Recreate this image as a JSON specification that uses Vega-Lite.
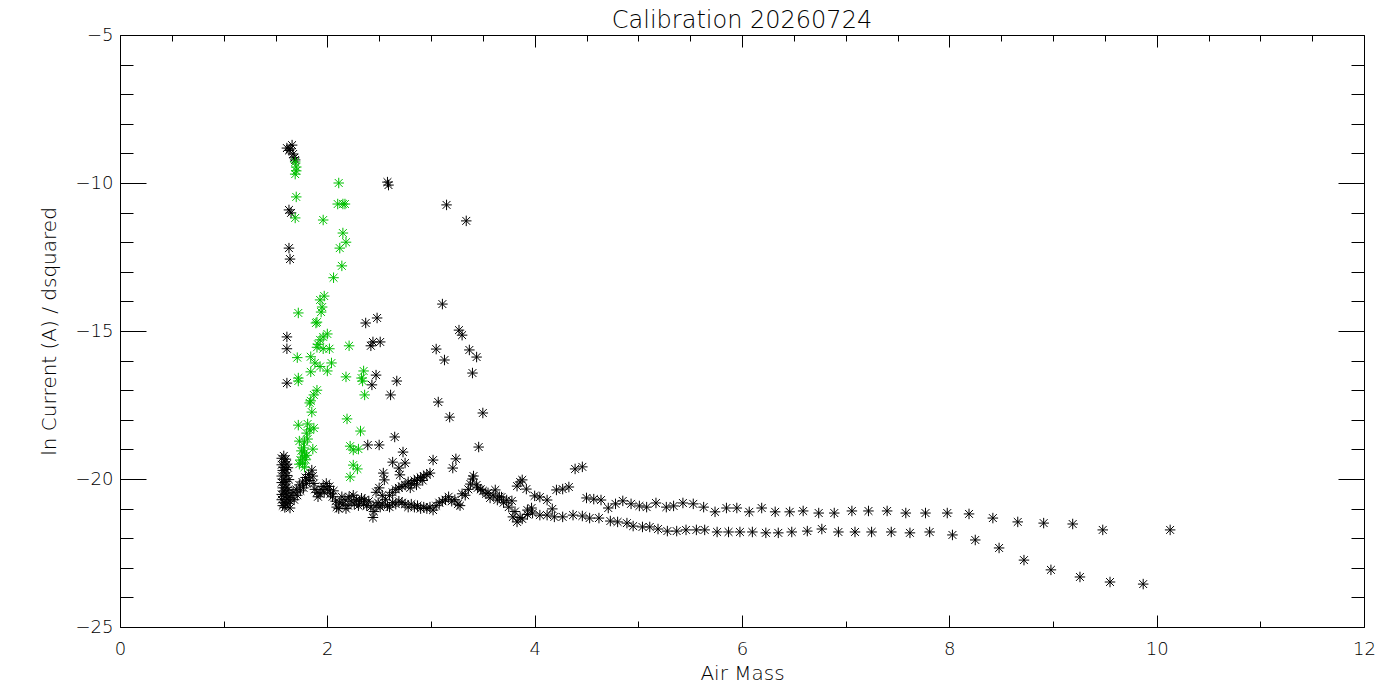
{
  "$schema": "https://vega.github.io/schema/vega-lite/v6.json",
  "width": 1244,
  "height": 592,
  "autosize": {"type": "none"},
  "padding": {"left": 120, "top": 35, "right": 36, "bottom": 73},
  "background": "white",
  "title": {
    "text": "Calibration 20260724",
    "font": "DejaVu Sans",
    "fontWeight": 200,
    "fontSize": 24,
    "color": "black",
    "offset": -7
  },
  "config": {
    "view": {"stroke": null},
    "axis": {
      "grid": false,
      "domainColor": "black",
      "domainWidth": 1,
      "tickColor": "black",
      "tickWidth": 1,
      "labelFont": "DejaVu Sans",
      "labelFontWeight": 200,
      "labelFontSize": 18,
      "labelColor": "black",
      "labelFlush": false,
      "labelOverlap": false,
      "titleFont": "DejaVu Sans",
      "titleFontWeight": 200,
      "titleFontSize": 20,
      "titleColor": "black"
    }
  },
  "datasets": {
    "pts": [
      {"x": 1.61, "y": -8.82, "s": "k"}, {"x": 1.66, "y": -8.72, "s": "k"}, {"x": 1.64, "y": -8.85, "s": "k"},
      {"x": 1.67, "y": -9.02, "s": "k"}, {"x": 1.68, "y": -9.15, "s": "k"}, {"x": 1.69, "y": -9.22, "s": "k"},
      {"x": 1.63, "y": -8.9, "s": "k"},
      {"x": 2.58, "y": -9.97, "s": "k"}, {"x": 2.59, "y": -10.07, "s": "k"}, {"x": 1.63, "y": -10.91, "s": "k"},
      {"x": 1.65, "y": -11.01, "s": "k"}, {"x": 1.63, "y": -12.2, "s": "k"}, {"x": 1.64, "y": -12.57, "s": "k"},
      {"x": 3.15, "y": -10.74, "s": "k"}, {"x": 3.34, "y": -11.28, "s": "k"},
      {"x": 3.11, "y": -14.09, "s": "k"}, {"x": 2.37, "y": -14.73, "s": "k"}, {"x": 2.48, "y": -14.56, "s": "k"},
      {"x": 1.61, "y": -15.2, "s": "k"}, {"x": 1.61, "y": -15.6, "s": "k"}, {"x": 1.61, "y": -16.76, "s": "k"},
      {"x": 2.44, "y": -15.37, "s": "k"}, {"x": 2.51, "y": -15.37, "s": "k"}, {"x": 2.42, "y": -15.5, "s": "k"},
      {"x": 3.05, "y": -15.61, "s": "k"}, {"x": 3.27, "y": -14.97, "s": "k"}, {"x": 3.30, "y": -15.14, "s": "k"},
      {"x": 3.13, "y": -15.98, "s": "k"}, {"x": 3.37, "y": -15.64, "s": "k"}, {"x": 3.44, "y": -15.88, "s": "k"},
      {"x": 3.40, "y": -16.42, "s": "k"}, {"x": 2.47, "y": -16.49, "s": "k"}, {"x": 2.43, "y": -16.82, "s": "k"},
      {"x": 2.67, "y": -16.69, "s": "k"}, {"x": 2.61, "y": -17.16, "s": "k"}, {"x": 3.07, "y": -17.40, "s": "k"},
      {"x": 3.18, "y": -17.91, "s": "k"}, {"x": 3.50, "y": -17.77, "s": "k"}, {"x": 2.65, "y": -18.58, "s": "k"},
      {"x": 3.46, "y": -18.92, "s": "k"}, {"x": 2.39, "y": -18.85, "s": "k"}, {"x": 2.50, "y": -18.85, "s": "k"},
      {"x": 2.73, "y": -19.09, "s": "k"}, {"x": 2.75, "y": -19.46, "s": "k"}, {"x": 2.63, "y": -19.43, "s": "k"},
      {"x": 3.02, "y": -19.36, "s": "k"}, {"x": 3.24, "y": -19.32, "s": "k"}, {"x": 3.21, "y": -19.63, "s": "k"},
      {"x": 2.69, "y": -19.63, "s": "k"}, {"x": 2.70, "y": -19.86, "s": "k"}, {"x": 2.54, "y": -19.8, "s": "k"},
      {"x": 2.55, "y": -20.03, "s": "k"},
      {"x": 1.56, "y": -19.30, "s": "k"}, {"x": 1.56, "y": -19.52, "s": "k"}, {"x": 1.57, "y": -19.71, "s": "k"},
      {"x": 1.56, "y": -19.90, "s": "k"}, {"x": 1.56, "y": -20.12, "s": "k"}, {"x": 1.57, "y": -20.30, "s": "k"},
      {"x": 1.56, "y": -20.52, "s": "k"}, {"x": 1.56, "y": -20.70, "s": "k"}, {"x": 1.57, "y": -20.90, "s": "k"},
      {"x": 1.58, "y": -19.22, "s": "k"}, {"x": 1.59, "y": -19.42, "s": "k"}, {"x": 1.58, "y": -19.61, "s": "k"},
      {"x": 1.59, "y": -19.80, "s": "k"}, {"x": 1.58, "y": -20.01, "s": "k"}, {"x": 1.59, "y": -20.20, "s": "k"},
      {"x": 1.58, "y": -20.41, "s": "k"}, {"x": 1.59, "y": -20.60, "s": "k"}, {"x": 1.58, "y": -20.80, "s": "k"},
      {"x": 1.59, "y": -20.96, "s": "k"}, {"x": 1.60, "y": -19.33, "s": "k"}, {"x": 1.61, "y": -19.50, "s": "k"},
      {"x": 1.60, "y": -19.68, "s": "k"}, {"x": 1.61, "y": -19.88, "s": "k"}, {"x": 1.60, "y": -20.08, "s": "k"},
      {"x": 1.61, "y": -20.28, "s": "k"}, {"x": 1.60, "y": -20.48, "s": "k"}, {"x": 1.61, "y": -20.68, "s": "k"},
      {"x": 1.60, "y": -20.88, "s": "k"}, {"x": 1.62, "y": -19.62, "s": "k"}, {"x": 1.63, "y": -20.02, "s": "k"},
      {"x": 1.62, "y": -20.38, "s": "k"}, {"x": 1.63, "y": -20.62, "s": "k"}, {"x": 1.62, "y": -20.82, "s": "k"},
      {"x": 1.64, "y": -20.98, "s": "k"},
      {"x": 1.64, "y": -20.75, "s": "k"}, {"x": 1.65, "y": -20.55, "s": "k"}, {"x": 1.67, "y": -20.45, "s": "k"},
      {"x": 1.68, "y": -20.7, "s": "k"}, {"x": 1.70, "y": -20.35, "s": "k"}, {"x": 1.71, "y": -20.55, "s": "k"},
      {"x": 1.73, "y": -20.2, "s": "k"}, {"x": 1.74, "y": -20.4, "s": "k"}, {"x": 1.76, "y": -20.1, "s": "k"},
      {"x": 1.77, "y": -20.3, "s": "k"}, {"x": 1.79, "y": -19.95, "s": "k"}, {"x": 1.80, "y": -20.15, "s": "k"},
      {"x": 1.82, "y": -19.85, "s": "k"}, {"x": 1.83, "y": -20.05, "s": "k"}, {"x": 1.85, "y": -19.7, "s": "k"},
      {"x": 1.86, "y": -19.9, "s": "k"},
      {"x": 1.87, "y": -20.15, "s": "k"}, {"x": 1.88, "y": -20.35, "s": "k"}, {"x": 1.90, "y": -20.45, "s": "k"},
      {"x": 1.91, "y": -20.6, "s": "k"}, {"x": 1.93, "y": -20.5, "s": "k"}, {"x": 1.94, "y": -20.35, "s": "k"},
      {"x": 1.96, "y": -20.25, "s": "k"}, {"x": 1.97, "y": -20.45, "s": "k"}, {"x": 1.99, "y": -20.15, "s": "k"},
      {"x": 2.00, "y": -20.35, "s": "k"}, {"x": 2.02, "y": -20.25, "s": "k"}, {"x": 2.03, "y": -20.5, "s": "k"},
      {"x": 2.05, "y": -20.6, "s": "k"}, {"x": 2.06, "y": -20.4, "s": "k"},
      {"x": 2.08, "y": -20.75, "s": "k"}, {"x": 2.09, "y": -20.95, "s": "k"}, {"x": 2.11, "y": -21.0, "s": "k"},
      {"x": 2.12, "y": -20.8, "s": "k"}, {"x": 2.14, "y": -20.6, "s": "k"}, {"x": 2.15, "y": -20.85, "s": "k"},
      {"x": 2.17, "y": -20.7, "s": "k"}, {"x": 2.18, "y": -21.0, "s": "k"}, {"x": 2.20, "y": -20.9, "s": "k"},
      {"x": 2.21, "y": -20.6, "s": "k"}, {"x": 2.23, "y": -20.75, "s": "k"}, {"x": 2.25, "y": -20.55, "s": "k"},
      {"x": 2.26, "y": -20.85, "s": "k"}, {"x": 2.28, "y": -20.7, "s": "k"}, {"x": 2.30, "y": -20.9, "s": "k"},
      {"x": 2.31, "y": -20.75, "s": "k"}, {"x": 2.33, "y": -20.65, "s": "k"}, {"x": 2.35, "y": -20.85, "s": "k"},
      {"x": 2.36, "y": -20.7, "s": "k"}, {"x": 2.38, "y": -20.9, "s": "k"}, {"x": 2.40, "y": -20.75, "s": "k"},
      {"x": 2.42, "y": -20.95, "s": "k"}, {"x": 2.44, "y": -21.3, "s": "k"}, {"x": 2.45, "y": -21.1, "s": "k"},
      {"x": 2.47, "y": -20.9, "s": "k"}, {"x": 2.49, "y": -20.8, "s": "k"}, {"x": 2.51, "y": -20.95, "s": "k"},
      {"x": 2.53, "y": -20.85, "s": "k"}, {"x": 2.56, "y": -20.7, "s": "k"}, {"x": 2.58, "y": -20.9, "s": "k"},
      {"x": 2.60, "y": -20.95, "s": "k"}, {"x": 2.63, "y": -20.8, "s": "k"}, {"x": 2.66, "y": -20.85, "s": "k"},
      {"x": 2.69, "y": -20.75, "s": "k"}, {"x": 2.72, "y": -20.8, "s": "k"}, {"x": 2.75, "y": -20.85, "s": "k"},
      {"x": 2.78, "y": -20.95, "s": "k"}, {"x": 2.81, "y": -20.85, "s": "k"}, {"x": 2.84, "y": -20.95, "s": "k"},
      {"x": 2.87, "y": -20.9, "s": "k"}, {"x": 2.90, "y": -21.0, "s": "k"}, {"x": 2.93, "y": -20.95, "s": "k"},
      {"x": 2.96, "y": -21.0, "s": "k"}, {"x": 2.99, "y": -20.95, "s": "k"}, {"x": 3.02, "y": -21.05, "s": "k"},
      {"x": 3.05, "y": -20.9, "s": "k"}, {"x": 3.08, "y": -20.8, "s": "k"}, {"x": 3.11, "y": -20.75, "s": "k"},
      {"x": 3.14, "y": -20.7, "s": "k"}, {"x": 3.17, "y": -20.6, "s": "k"}, {"x": 3.20, "y": -20.75, "s": "k"},
      {"x": 3.23, "y": -20.7, "s": "k"}, {"x": 3.26, "y": -20.85, "s": "k"}, {"x": 3.28, "y": -20.9, "s": "k"},
      {"x": 2.47, "y": -20.45, "s": "k"}, {"x": 2.50, "y": -20.3, "s": "k"}, {"x": 2.53, "y": -20.55, "s": "k"},
      {"x": 2.60, "y": -20.55, "s": "k"}, {"x": 2.63, "y": -20.45, "s": "k"}, {"x": 2.66, "y": -20.35, "s": "k"},
      {"x": 2.69, "y": -20.3, "s": "k"}, {"x": 2.72, "y": -20.25, "s": "k"}, {"x": 2.75, "y": -20.2, "s": "k"},
      {"x": 2.78, "y": -20.1, "s": "k"}, {"x": 2.81, "y": -20.15, "s": "k"}, {"x": 2.84, "y": -20.05, "s": "k"},
      {"x": 2.87, "y": -20.0, "s": "k"}, {"x": 2.90, "y": -19.95, "s": "k"}, {"x": 2.93, "y": -19.9, "s": "k"},
      {"x": 2.96, "y": -19.85, "s": "k"}, {"x": 2.99, "y": -19.8, "s": "k"}, {"x": 2.80, "y": -20.3, "s": "k"},
      {"x": 2.86, "y": -20.2, "s": "k"}, {"x": 2.92, "y": -20.05, "s": "k"},
      {"x": 3.30, "y": -20.5, "s": "k"}, {"x": 3.33, "y": -20.55, "s": "k"}, {"x": 3.36, "y": -20.35, "s": "k"},
      {"x": 3.38, "y": -20.17, "s": "k"}, {"x": 3.40, "y": -20.0, "s": "k"}, {"x": 3.41, "y": -19.9, "s": "k"},
      {"x": 3.44, "y": -20.2, "s": "k"}, {"x": 3.45, "y": -20.3, "s": "k"}, {"x": 3.48, "y": -20.35, "s": "k"},
      {"x": 3.50, "y": -20.4, "s": "k"}, {"x": 3.53, "y": -20.5, "s": "k"}, {"x": 3.55, "y": -20.47, "s": "k"},
      {"x": 3.57, "y": -20.64, "s": "k"}, {"x": 3.60, "y": -20.55, "s": "k"}, {"x": 3.62, "y": -20.37, "s": "k"},
      {"x": 3.64, "y": -20.71, "s": "k"}, {"x": 3.66, "y": -20.6, "s": "k"}, {"x": 3.68, "y": -20.61, "s": "k"},
      {"x": 3.70, "y": -20.8, "s": "k"}, {"x": 3.73, "y": -20.71, "s": "k"}, {"x": 3.75, "y": -20.95, "s": "k"},
      {"x": 3.78, "y": -20.74, "s": "k"}, {"x": 3.79, "y": -21.28, "s": "k"}, {"x": 3.81, "y": -21.1, "s": "k"},
      {"x": 3.83, "y": -21.45, "s": "k"}, {"x": 3.86, "y": -21.3, "s": "k"}, {"x": 3.88, "y": -21.35, "s": "k"},
      {"x": 3.83, "y": -20.24, "s": "k"}, {"x": 3.86, "y": -20.1, "s": "k"}, {"x": 3.88, "y": -20.03, "s": "k"},
      {"x": 3.92, "y": -20.34, "s": "k"}, {"x": 3.93, "y": -21.05, "s": "k"}, {"x": 3.93, "y": -21.2, "s": "k"},
      {"x": 3.97, "y": -20.98, "s": "k"}, {"x": 4.00, "y": -20.57, "s": "k"}, {"x": 4.05, "y": -20.61, "s": "k"},
      {"x": 4.12, "y": -20.71, "s": "k"}, {"x": 4.17, "y": -21.01, "s": "k"}, {"x": 4.21, "y": -20.37, "s": "k"},
      {"x": 4.27, "y": -20.34, "s": "k"}, {"x": 4.33, "y": -20.27, "s": "k"}, {"x": 4.39, "y": -19.66, "s": "k"},
      {"x": 4.46, "y": -19.59, "s": "k"},
      {"x": 4.50, "y": -20.64, "s": "k"}, {"x": 4.57, "y": -20.68, "s": "k"}, {"x": 4.64, "y": -20.71, "s": "k"},
      {"x": 4.71, "y": -20.98, "s": "k"}, {"x": 4.78, "y": -20.84, "s": "k"}, {"x": 4.85, "y": -20.74, "s": "k"},
      {"x": 4.93, "y": -20.84, "s": "k"}, {"x": 5.01, "y": -20.91, "s": "k"}, {"x": 5.08, "y": -20.95, "s": "k"},
      {"x": 5.17, "y": -20.81, "s": "k"}, {"x": 5.27, "y": -20.95, "s": "k"}, {"x": 5.34, "y": -20.91, "s": "k"},
      {"x": 5.43, "y": -20.81, "s": "k"}, {"x": 5.53, "y": -20.84, "s": "k"},
      {"x": 5.63, "y": -20.95, "s": "k"}, {"x": 5.74, "y": -21.11, "s": "k"}, {"x": 5.85, "y": -20.98, "s": "k"},
      {"x": 5.95, "y": -20.98, "s": "k"}, {"x": 6.07, "y": -21.11, "s": "k"}, {"x": 6.19, "y": -20.98, "s": "k"},
      {"x": 6.32, "y": -21.11, "s": "k"}, {"x": 6.46, "y": -21.11, "s": "k"}, {"x": 6.59, "y": -21.08, "s": "k"},
      {"x": 6.74, "y": -21.15, "s": "k"}, {"x": 6.89, "y": -21.15, "s": "k"}, {"x": 7.06, "y": -21.08, "s": "k"},
      {"x": 7.22, "y": -21.08, "s": "k"}, {"x": 7.40, "y": -21.08, "s": "k"}, {"x": 7.58, "y": -21.15, "s": "k"},
      {"x": 7.77, "y": -21.15, "s": "k"}, {"x": 7.98, "y": -21.15, "s": "k"}, {"x": 8.19, "y": -21.18, "s": "k"},
      {"x": 8.42, "y": -21.32, "s": "k"}, {"x": 8.66, "y": -21.45, "s": "k"}, {"x": 8.91, "y": -21.49, "s": "k"},
      {"x": 9.19, "y": -21.52, "s": "k"}, {"x": 9.48, "y": -21.72, "s": "k"}, {"x": 10.13, "y": -21.72, "s": "k"},
      {"x": 3.98, "y": -21.15, "s": "k"}, {"x": 4.05, "y": -21.22, "s": "k"}, {"x": 4.12, "y": -21.22, "s": "k"},
      {"x": 4.19, "y": -21.28, "s": "k"}, {"x": 4.27, "y": -21.28, "s": "k"}, {"x": 4.37, "y": -21.22, "s": "k"},
      {"x": 4.46, "y": -21.25, "s": "k"}, {"x": 4.53, "y": -21.32, "s": "k"}, {"x": 4.62, "y": -21.32, "s": "k"},
      {"x": 4.73, "y": -21.42, "s": "k"}, {"x": 4.80, "y": -21.45, "s": "k"}, {"x": 4.89, "y": -21.49, "s": "k"},
      {"x": 4.95, "y": -21.59, "s": "k"}, {"x": 5.04, "y": -21.62, "s": "k"}, {"x": 5.11, "y": -21.62, "s": "k"},
      {"x": 5.19, "y": -21.69, "s": "k"}, {"x": 5.28, "y": -21.76, "s": "k"}, {"x": 5.37, "y": -21.76, "s": "k"},
      {"x": 5.46, "y": -21.72, "s": "k"}, {"x": 5.56, "y": -21.72, "s": "k"},
      {"x": 5.64, "y": -21.72, "s": "k"}, {"x": 5.76, "y": -21.79, "s": "k"}, {"x": 5.87, "y": -21.79, "s": "k"},
      {"x": 5.98, "y": -21.79, "s": "k"}, {"x": 6.10, "y": -21.79, "s": "k"}, {"x": 6.23, "y": -21.82, "s": "k"},
      {"x": 6.35, "y": -21.82, "s": "k"}, {"x": 6.48, "y": -21.79, "s": "k"}, {"x": 6.63, "y": -21.76, "s": "k"},
      {"x": 6.77, "y": -21.69, "s": "k"}, {"x": 6.93, "y": -21.79, "s": "k"}, {"x": 7.09, "y": -21.79, "s": "k"},
      {"x": 7.25, "y": -21.79, "s": "k"}, {"x": 7.44, "y": -21.79, "s": "k"}, {"x": 7.62, "y": -21.82, "s": "k"},
      {"x": 7.81, "y": -21.79, "s": "k"}, {"x": 8.03, "y": -21.89, "s": "k"}, {"x": 8.25, "y": -22.06, "s": "k"},
      {"x": 8.48, "y": -22.33, "s": "k"}, {"x": 8.72, "y": -22.74, "s": "k"}, {"x": 8.98, "y": -23.07, "s": "k"},
      {"x": 9.26, "y": -23.31, "s": "k"}, {"x": 9.55, "y": -23.48, "s": "k"}, {"x": 9.87, "y": -23.55, "s": "k"},
      {"x": 1.69, "y": -9.29, "s": "g"}, {"x": 1.70, "y": -9.46, "s": "g"}, {"x": 1.70, "y": -9.59, "s": "g"},
      {"x": 1.69, "y": -9.7, "s": "g"}, {"x": 2.11, "y": -10.0, "s": "g"}, {"x": 1.70, "y": -10.47, "s": "g"},
      {"x": 2.10, "y": -10.71, "s": "g"}, {"x": 2.15, "y": -10.71, "s": "g"}, {"x": 2.17, "y": -10.71, "s": "g"},
      {"x": 1.69, "y": -11.18, "s": "g"}, {"x": 1.96, "y": -11.25, "s": "g"}, {"x": 2.15, "y": -11.69, "s": "g"},
      {"x": 2.18, "y": -12.0, "s": "g"}, {"x": 2.12, "y": -12.2, "s": "g"}, {"x": 2.14, "y": -12.8, "s": "g"},
      {"x": 2.06, "y": -13.2, "s": "g"}, {"x": 1.97, "y": -13.82, "s": "g"}, {"x": 1.93, "y": -13.95, "s": "g"},
      {"x": 1.95, "y": -14.19, "s": "g"}, {"x": 1.94, "y": -14.36, "s": "g"}, {"x": 1.72, "y": -14.39, "s": "g"},
      {"x": 1.90, "y": -14.7, "s": "g"}, {"x": 1.89, "y": -14.73, "s": "g"},
      {"x": 2.00, "y": -15.1, "s": "g"}, {"x": 1.96, "y": -15.2, "s": "g"}, {"x": 1.93, "y": -15.3, "s": "g"},
      {"x": 1.91, "y": -15.45, "s": "g"}, {"x": 1.90, "y": -15.55, "s": "g"}, {"x": 1.96, "y": -15.6, "s": "g"},
      {"x": 2.02, "y": -15.6, "s": "g"}, {"x": 2.21, "y": -15.5, "s": "g"}, {"x": 1.71, "y": -15.9, "s": "g"},
      {"x": 1.84, "y": -15.87, "s": "g"}, {"x": 1.88, "y": -16.08, "s": "g"}, {"x": 1.93, "y": -16.2, "s": "g"},
      {"x": 2.04, "y": -16.08, "s": "g"}, {"x": 2.00, "y": -16.35, "s": "g"}, {"x": 1.84, "y": -16.38, "s": "g"},
      {"x": 1.72, "y": -16.59, "s": "g"}, {"x": 1.72, "y": -16.69, "s": "g"}, {"x": 2.18, "y": -16.55, "s": "g"},
      {"x": 2.33, "y": -16.59, "s": "g"}, {"x": 2.34, "y": -16.69, "s": "g"}, {"x": 2.35, "y": -16.35, "s": "g"},
      {"x": 2.36, "y": -17.16, "s": "g"}, {"x": 1.90, "y": -17.0, "s": "g"}, {"x": 1.87, "y": -17.16, "s": "g"},
      {"x": 1.84, "y": -17.36, "s": "g"}, {"x": 1.83, "y": -17.43, "s": "g"}, {"x": 1.85, "y": -17.74, "s": "g"},
      {"x": 2.19, "y": -17.97, "s": "g"}, {"x": 1.72, "y": -18.18, "s": "g"}, {"x": 1.81, "y": -18.14, "s": "g"},
      {"x": 1.87, "y": -18.28, "s": "g"}, {"x": 1.83, "y": -18.34, "s": "g"}, {"x": 1.80, "y": -18.45, "s": "g"},
      {"x": 2.32, "y": -18.38, "s": "g"}, {"x": 1.73, "y": -18.72, "s": "g"}, {"x": 1.78, "y": -18.75, "s": "g"},
      {"x": 1.81, "y": -18.65, "s": "g"}, {"x": 1.86, "y": -18.99, "s": "g"}, {"x": 1.77, "y": -18.95, "s": "g"},
      {"x": 1.78, "y": -19.12, "s": "g"}, {"x": 1.76, "y": -19.26, "s": "g"}, {"x": 1.74, "y": -19.36, "s": "g"},
      {"x": 1.76, "y": -19.46, "s": "g"}, {"x": 1.78, "y": -19.6, "s": "g"}, {"x": 2.22, "y": -18.89, "s": "g"},
      {"x": 2.25, "y": -19.02, "s": "g"}, {"x": 2.30, "y": -18.99, "s": "g"}, {"x": 2.25, "y": -19.53, "s": "g"},
      {"x": 2.29, "y": -19.66, "s": "g"}, {"x": 2.22, "y": -19.93, "s": "g"}, {"x": 1.75, "y": -19.05, "s": "g"},
      {"x": 1.79, "y": -19.35, "s": "g"}, {"x": 1.73, "y": -19.5, "s": "g"}, {"x": 1.80, "y": -19.2, "s": "g"}
    ]
  },
  "data": {"name": "pts"},
  "layer": [
    {
      "transform": [{"filter": "datum.s === 'k'"}],
      "mark": {
        "type": "point",
        "shape": "M-1,0L1,0M0,-1L0,1M-0.75,-0.75L0.75,0.75M-0.75,0.75L0.75,-0.75",
        "filled": false,
        "size": 110,
        "strokeWidth": 1,
        "color": "black",
        "opacity": 1
      },
      "encoding": {
        "x": {
          "field": "x",
          "type": "quantitative",
          "scale": {"domain": [0, 12], "nice": false, "zero": false},
          "axis": {
            "orient": "bottom",
            "title": "Air Mass",
            "titlePadding": -1,
            "format": "d",
            "values": [0, 0.5, 1, 1.5, 2, 2.5, 3, 3.5, 4, 4.5, 5, 5.5, 6, 6.5, 7, 7.5, 8, 8.5, 9, 9.5, 10, 10.5, 11, 11.5, 12],
            "labelExpr": "datum.value % 2 === 0 ? datum.label : ''",
            "tickSize": {"condition": {"test": "datum.value % 2 === 0", "value": -12}, "value": -6},
            "labelPadding": 25
          }
        },
        "y": {
          "field": "y",
          "type": "quantitative",
          "scale": {"domain": [-25, -5], "nice": false, "zero": false},
          "axis": {
            "orient": "left",
            "title": "ln Current (A) / dsquared",
            "titlePadding": 16,
            "format": "d",
            "values": [-25, -24, -23, -22, -21, -20, -19, -18, -17, -16, -15, -14, -13, -12, -11, -10, -9, -8, -7, -6, -5],
            "labelExpr": "datum.value % 5 === 0 ? datum.label : ''",
            "tickSize": {"condition": {"test": "datum.value % 5 === 0", "value": -26}, "value": -13},
            "labelPadding": 33
          }
        }
      }
    },
    {
      "transform": [{"filter": "datum.s === 'g'"}],
      "mark": {
        "type": "point",
        "shape": "M-1,0L1,0M0,-1L0,1M-0.75,-0.75L0.75,0.75M-0.75,0.75L0.75,-0.75",
        "filled": false,
        "size": 110,
        "strokeWidth": 1,
        "color": "#00c000",
        "opacity": 1
      },
      "encoding": {
        "x": {
          "field": "x",
          "type": "quantitative",
          "scale": {"domain": [0, 12], "nice": false, "zero": false},
          "axis": {
            "orient": "top",
            "title": null,
            "labels": false,
            "values": [0, 0.5, 1, 1.5, 2, 2.5, 3, 3.5, 4, 4.5, 5, 5.5, 6, 6.5, 7, 7.5, 8, 8.5, 9, 9.5, 10, 10.5, 11, 11.5, 12],
            "tickSize": {"condition": {"test": "datum.value % 2 === 0", "value": -12}, "value": -6}
          }
        },
        "y": {
          "field": "y",
          "type": "quantitative",
          "scale": {"domain": [-25, -5], "nice": false, "zero": false},
          "axis": {
            "orient": "right",
            "title": null,
            "labels": false,
            "values": [-25, -24, -23, -22, -21, -20, -19, -18, -17, -16, -15, -14, -13, -12, -11, -10, -9, -8, -7, -6, -5],
            "tickSize": {"condition": {"test": "datum.value % 5 === 0", "value": -26}, "value": -13}
          }
        }
      }
    }
  ],
  "resolve": {"axis": {"x": "independent", "y": "independent"}}
}
